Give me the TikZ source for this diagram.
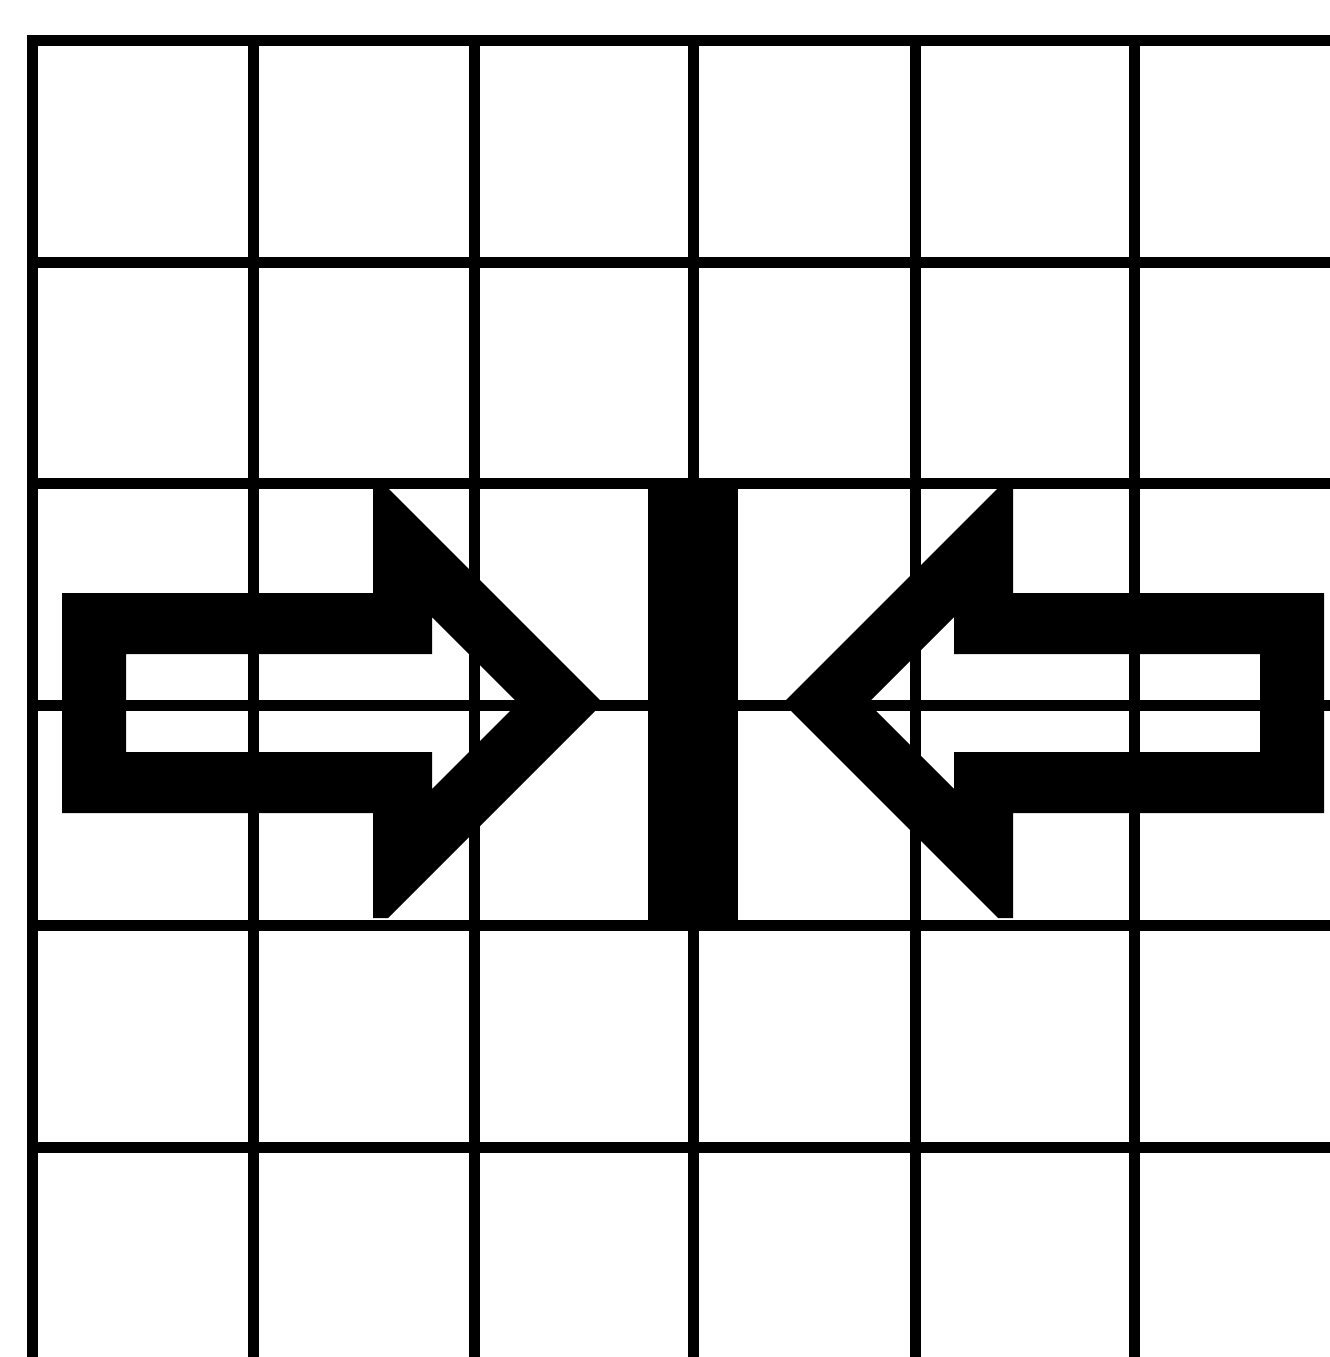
\documentclass[tikz,border=0pt]{standalone}
\begin{document}
\begin{tikzpicture}[x=1pt,y=-1pt,
  gridline/.style={line width=11pt,black,line cap=rect},
  solidpart/.style={fill=black,draw=none},
  hollowarrow/.style={fill=black,even odd rule,draw=none}]
\useasboundingbox (0,0) rectangle (1330,1357);
% grid
\foreach \gx in {32,253,474,693,915,1134}
  \draw[gridline] (\gx,40) -- (\gx,1362);
\foreach \gy in {40,262,483,705,925,1147}
  \draw[gridline] (32,\gy) -- (1335,\gy);
% left hollow arrow
\fill[hollowarrow]
  (62,593) -- (373,593) -- (373,488) -- (388,488) -- (603,703) -- (388,918) -- (373,918) -- (373,813) -- (62,813) -- cycle
  (126,654) -- (432,654) -- (432,617) -- (518,703) -- (432,789) -- (432,752) -- (126,752) -- cycle;
% right hollow arrow (mirror image about x = 693)
\begin{scope}[xshift=1386pt,xscale=-1]
\fill[hollowarrow]
  (62,593) -- (373,593) -- (373,488) -- (388,488) -- (603,703) -- (388,918) -- (373,918) -- (373,813) -- (62,813) -- cycle
  (126,654) -- (432,654) -- (432,617) -- (518,703) -- (432,789) -- (432,752) -- (126,752) -- cycle;
\end{scope}
% central bar
\fill[solidpart] (648,483) rectangle (738,925);
\end{tikzpicture}
\end{document}
